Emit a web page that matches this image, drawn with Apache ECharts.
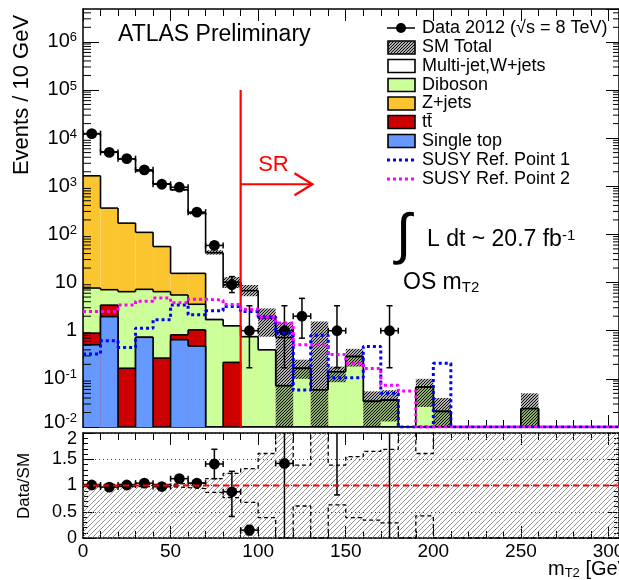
<!DOCTYPE html>
<html>
<head>
<meta charset="utf-8">
<title>OS mT2</title>
<script src="https://cdn.jsdelivr.net/npm/echarts@6/dist/echarts.min.js"></script>
<style>
  html, body { margin: 0; padding: 0; background: #fff; }
  #chart { width: 619px; height: 580px; }
</style>
</head>
<body>
<div id="chart"></div>
<script>
const FONT = '"Liberation Sans", Arial, Helvetica, sans-serif';
const BIN_W = 10;
const X_MAX = 306;
const Y_MIN = 0.01;
const Y_MAX = 4.8e6;
const SR_CUT = 90;

// 10 GeV bins from 0 to 310 GeV (31 bins)
const singleTop = [0.51, 1.96, 0, 0.73, 0, 0.65, 0.48, 0, 0, 0, 0, 0, 0, 0, 0, 0, 0, 0, 0, 0, 0, 0, 0, 0, 0, 0, 0, 0, 0, 0, 0];
const ttbar     = [0.38, 1.44, 0.166, 0, 0.27, 0.17, 0.56, 0, 0.22, 0, 0, 0, 0, 0, 0, 0, 0, 0, 0, 0, 0, 0, 0, 0, 0, 0, 0, 0, 0, 0, 0];
const diboson   = [6.8, 3.7, 6.3, 6.5, 6.2, 4.7, 2.5, 1.7, 1.04, 0.75, 0.40, 0.072, 0.165, 0.059, 0.14, 0.29, 0.034, 0.036, 0, 0.067, 0.021, 0, 0, 0, 0, 0.024, 0, 0, 0, 0, 0];
const zjets     = [1642, 345, 165, 103, 49.5, 10, 12, 0, 0, 0, 0, 0, 0, 0, 0, 0, 0, 0, 0, 0, 0, 0, 0, 0, 0, 0, 0, 0, 0, 0, 0];
const multijet  = [10650, 4850, 3530, 1990, 1064, 830, 262, 40, 8.9, 6.05, 1.4, 0.65, 0, 0, 0, 0, 0, 0, 0, 0, 0, 0, 0, 0, 0, 0, 0, 0, 0, 0, 0];

// SM total uncertainty band (absolute)
const smLow  = [11800, 5000, 3550, 2000, 1070, 800, 260, 38, 7.7, 5.2, 0.75, 0.001, 0.1, 0.001, 0.085, 0.18, 0.001, 0.013, 0, 0.026, 0.001, 0, 0, 0, 0, 0.001, 0, 0, 0, 0, 0];
const smHigh = [12800, 5400, 3850, 2200, 1170, 890, 295, 47, 13, 8.9, 2.9, 1.5, 0.25, 1.55, 0.18, 0.42, 0.055, 0.058, 0, 0.1, 0.04, 0, 0, 0, 0, 0.05, 0, 0, 0, 0, 0];

const dataCounts = [12400, 5050, 3740, 2190, 1100, 955, 290, 59, 9, 1, 0, 1, 2, 0, 1, 0, 0, 1, 0, 0, 0, 0, 0, 0, 0, 0, 0, 0, 0, 0, 0];
const dataLow    = [12290, 4980, 3680, 2143, 1067, 924, 273, 51, 6.2, 0.17, 0, 0.17, 0.7, 0, 0.17, 0, 0, 0.17, 0, 0, 0, 0, 0, 0, 0, 0, 0, 0, 0, 0, 0];
const dataHigh   = [12510, 5120, 3800, 2237, 1133, 986, 307, 67, 13.3, 3.3, 0, 3.3, 4.7, 0, 3.3, 0, 0, 3.3, 0, 0, 0, 0, 0, 0, 0, 0, 0, 0, 0, 0, 0];

const susy1 = [0.33, 0.62, 0.45, 1.12, 1.68, 3.4, 2.14, 2.6, 3.2, 2.5, 1.96, 0.9, 0.059, 0.8, 0.105, 0.105, 0.47, 0.05, 0, 0, 0.21, 0, 0, 0, 0, 0, 0, 0, 0, 0, 0];
const susy2 = [2.5, 2.5, 3.4, 4.1, 4.8, 3.8, 4.5, 4.3, 3.5, 2.8, 1.9, 1.45, 0.51, 0.51, 0.32, 0.21, 0.165, 0.074, 0.056, 0, 0, 0, 0, 0, 0, 0, 0, 0, 0, 0, 0];

// ratio panel
const ratioVal  = [1.01, 0.97, 1.01, 1.045, 0.98, 1.13, 1.045, 1.41, 0.88, 0.15, 0, 1.42, 12, 0, 7.1, 0, 0, 28, 0, 0, 0, 0, 0, 0, 0, 0, 0, 0, 0, 0, 0];
const ratioLow  = [0.99, 0.955, 0.99, 1.025, 0.95, 1.10, 0.99, 1.13, 0.41, 0.06, 0, 0, 4.2, 0, 0.82, 0, 0, 0, 0, 0, 0, 0, 0, 0, 0, 0, 0, 0, 0, 0, 0];
const ratioHigh = [1.03, 0.985, 1.03, 1.065, 1.01, 1.16, 1.10, 1.69, 1.27, 0.24, 0, 4.6, 28, 0, 23, 0, 0, 92, 0, 0, 0, 0, 0, 0, 0, 0, 0, 0, 0, 0, 0];
const bandUp = [1.02, 1.02, 1.02, 1.02, 1.02, 1.04, 1.05, 1.13, 1.23, 1.32, 1.61, 3, 1.39, 3, 1.39, 1.55, 1.65, 1.69, 3, 1.61, 3, 3, 3, 3, 3, 3, 3, 3, 3, 3, 3];
const bandLo = [0.98, 0.98, 0.98, 0.98, 0.98, 0.96, 0.94, 0.87, 0.77, 0.68, 0.39, 0, 0.61, 0, 0.63, 0.39, 0.34, 0.29, 0, 0.42, 0, 0, 0, 0, 0, 0, 0, 0, 0, 0, 0];

// cumulative stack levels
const cumTop = singleTop.slice();
const cumTt = cumTop.map((v, i) => v + ttbar[i]);
const cumVV = cumTt.map((v, i) => v + diboson[i]);
const cumZ = cumVV.map((v, i) => v + zjets[i]);
const cumSM = cumZ.map((v, i) => v + multijet[i]);

function makeHatch(size, color, width) {
  const c = document.createElement('canvas');
  c.width = c.height = size;
  const g = c.getContext('2d');
  g.strokeStyle = color;
  g.lineWidth = width;
  g.beginPath();
  g.moveTo(0, size); g.lineTo(size, 0);
  g.moveTo(-size / 2, size / 2); g.lineTo(size / 2, -size / 2);
  g.moveTo(size / 2, size * 1.5); g.lineTo(size * 1.5, size / 2);
  g.stroke();
  return c;
}
const smHatch = { image: makeHatch(3, '#000000', 1.2), repeat: 'repeat' };
const ratioHatch = { image: makeHatch(5, '#8a8a8a', 0.9), repeat: 'repeat' };

const clampLog = v => Math.max(v, Y_MIN);

function stepLayer(levels, fill) {
  return {
    type: 'custom', xAxisIndex: 0, yAxisIndex: 0, clip: true,
    data: levels.map((v, i) => [i * BIN_W, (i + 1) * BIN_W, v, i > 0 ? levels[i - 1] : 0]),
    renderItem(params, api) {
      const x0 = api.value(0), x1 = api.value(1), v = api.value(2), pv = api.value(3);
      const b0 = api.coord([x0, Y_MIN]);
      const b1 = api.coord([x1, Y_MIN]);
      const yv = api.coord([x0, clampLog(v)])[1];
      const ypv = api.coord([x0, clampLog(pv)])[1];
      const children = [];
      if (v > Y_MIN) {
        children.push({ type: 'rect', shape: { x: b0[0], y: yv, width: b1[0] - b0[0], height: b0[1] - yv }, style: { fill: fill } });
      }
      children.push({ type: 'line', shape: { x1: b0[0], y1: ypv, x2: b0[0], y2: yv }, style: { stroke: '#000', lineWidth: 1.6 } });
      children.push({ type: 'line', shape: { x1: b0[0], y1: yv, x2: b1[0], y2: yv }, style: { stroke: '#000', lineWidth: 1.6 } });
      return { type: 'group', children: children };
    }
  };
}

function errorRender(floor, cap) {
  return function (params, api) {
    const x = api.value(0), v = api.value(1), lo = api.value(2), hi = api.value(3);
    const c = api.coord([x, v]);
    const cl = api.coord([x, Math.max(lo, floor)]);
    const ch = api.coord([x, hi]);
    const xl = api.coord([x - BIN_W / 2, v])[0];
    const xr = api.coord([x + BIN_W / 2, v])[0];
    const s = { stroke: '#000', lineWidth: 1.5 };
    const ch2 = [
      { type: 'line', shape: { x1: c[0], y1: cl[1], x2: c[0], y2: ch[1] }, style: s },
      { type: 'line', shape: { x1: xl, y1: c[1], x2: xr, y2: c[1] }, style: s },
      { type: 'line', shape: { x1: xl, y1: c[1] - cap, x2: xl, y2: c[1] + cap }, style: s },
      { type: 'line', shape: { x1: xr, y1: c[1] - cap, x2: xr, y2: c[1] + cap }, style: s },
      { type: 'line', shape: { x1: c[0] - cap, y1: ch[1], x2: c[0] + cap, y2: ch[1] }, style: s },
      { type: 'circle', shape: { cx: c[0], cy: c[1], r: 5.4 }, style: { fill: '#000' } }
    ];
    if (lo > floor) ch2.push({ type: 'line', shape: { x1: c[0] - cap, y1: cl[1], x2: c[0] + cap, y2: cl[1] }, style: s });
    return { type: 'group', children: ch2 };
  };
}

function stepPoints(vals, floor) {
  const pts = vals.map((v, i) => [i * BIN_W, Math.max(v, floor)]);
  pts.push([vals.length * BIN_W, Math.max(vals[vals.length - 1], floor)]);
  return pts;
}

// log-axis minor tick positions (2..9 x 10^k)
const logMinor = [];
for (let e = -2; e <= 6; e++) {
  for (let m = 2; m <= 9; m++) {
    const v = m * Math.pow(10, e);
    if (v < Y_MAX) logMinor.push(v);
  }
}

const axisLineStyle = { color: '#000', width: 1.5 };
function xAxisCfg(gridIndex, position, labels) {
  return {
    type: 'value', gridIndex: gridIndex, position: position, min: 0, max: X_MAX, interval: 50,
    axisLine: { show: true, onZero: false, lineStyle: axisLineStyle },
    axisTick: { show: true, inside: true, length: 12, lineStyle: { color: '#000', width: 1 } },
    minorTick: { show: true, splitNumber: 5, length: 7, lineStyle: { color: '#000', width: 1 } },
    splitLine: { show: false },
    axisLabel: labels ? { show: true, color: '#000', fontSize: 19, fontFamily: FONT, margin: 4, showMaxLabel: false } : { show: false }
  };
}

const legendRows = [
  { y: 28, kind: 'data', text: 'Data 2012 (√s = 8 TeV)' },
  { y: 47.5, kind: 'hatch', text: 'SM Total' },
  { y: 66, kind: 'box', color: '#ffffff', text: 'Multi-jet,W+jets' },
  { y: 85, kind: 'box', color: '#ccff99', text: 'Diboson' },
  { y: 103.5, kind: 'box', color: '#fbc530', text: 'Z+jets' },
  { y: 122, kind: 'box', color: '#cc0000', text: 't' + 't\u0304' },
  { y: 141, kind: 'box', color: '#6699ff', text: 'Single top' },
  { y: 160, kind: 'line', color: '#0000ff', text: 'SUSY Ref. Point 1' },
  { y: 179, kind: 'line', color: '#ff00ff', text: 'SUSY Ref. Point 2' }
];
const legendGraphics = [];
legendRows.forEach(r => {
  if (r.kind === 'data') {
    legendGraphics.push({ type: 'line', shape: { x1: 387, y1: r.y, x2: 415, y2: r.y }, style: { stroke: '#000', lineWidth: 1.5 } });
    legendGraphics.push({ type: 'circle', shape: { cx: 401, cy: r.y, r: 5 }, style: { fill: '#000' } });
  } else if (r.kind === 'line') {
    legendGraphics.push({ type: 'line', shape: { x1: 387, y1: r.y, x2: 415, y2: r.y }, style: { stroke: r.color, lineWidth: 3, lineDash: [3, 3] } });
  } else {
    legendGraphics.push({ type: 'rect', shape: { x: 388, y: r.y - 6.5, width: 27, height: 13 },
      style: { fill: r.kind === 'hatch' ? smHatch : r.color, stroke: '#000', lineWidth: 1.6 } });
  }
  legendGraphics.push({ type: 'text', x: 422, y: r.y, style: { text: r.text, fill: '#000', fontSize: 18, fontFamily: FONT, verticalAlign: 'middle' } });
});

const textGraphics = [
  { type: 'text', x: 118, y: 35, style: { text: 'ATLAS Preliminary', fill: '#000', fontSize: 23, fontFamily: FONT, verticalAlign: 'middle' } },
  { type: 'text', x: 396, y: 238, style: { text: '∫', fill: '#000', fontSize: 56, fontFamily: FONT, verticalAlign: 'middle' } },
  { type: 'text', x: 427, y: 240, style: { text: 'L dt ~ 20.7 fb{s|-1}', fill: '#000', fontSize: 23, fontFamily: FONT, verticalAlign: 'middle',
      rich: { s: { fontSize: 15, fontFamily: FONT, verticalAlign: 'top', fill: '#000' } } } },
  { type: 'text', x: 403, y: 283, style: { text: 'OS m{sub|T2}', fill: '#000', fontSize: 23, fontFamily: FONT, verticalAlign: 'middle',
      rich: { sub: { fontSize: 15, fontFamily: FONT, verticalAlign: 'bottom', fill: '#000', padding: [10, 0, 0, 0] } } } },
  { type: 'text', x: 22, y: 95, rotation: Math.PI / 2, style: { text: 'Events / 10 GeV', fill: '#000', fontSize: 22, fontFamily: FONT, align: 'center', verticalAlign: 'middle' } },
  { type: 'text', x: 24, y: 486, rotation: Math.PI / 2, style: { text: 'Data/SM', fill: '#000', fontSize: 17, fontFamily: FONT, align: 'center', verticalAlign: 'middle' } },
  { type: 'text', x: 548, y: 569, style: { text: 'm{sub|T2} [GeV]', fill: '#000', fontSize: 20, fontFamily: FONT, verticalAlign: 'middle',
      rich: { sub: { fontSize: 13, fontFamily: FONT, verticalAlign: 'bottom', fill: '#000', padding: [8, 0, 0, 0] } } } }
];

const chart = echarts.init(document.getElementById('chart'), null, { renderer: 'canvas' });

const option = {
  animation: false,
  backgroundColor: '#ffffff',
  textStyle: { fontFamily: FONT },
  grid: [
    { left: 83, top: 9, width: 536, height: 418, containLabel: false, outerBoundsMode: 'none' },
    { left: 83, top: 433, width: 536, height: 105, containLabel: false, outerBoundsMode: 'none' }
  ],
  xAxis: [
    xAxisCfg(0, 'bottom', false),
    xAxisCfg(0, 'top', false),
    xAxisCfg(1, 'bottom', true),
    xAxisCfg(1, 'top', false)
  ],
  yAxis: [
    {
      type: 'log', logBase: 10, gridIndex: 0, position: 'left', min: Y_MIN, max: Y_MAX,
      axisLine: { show: true, onZero: false, lineStyle: axisLineStyle },
      axisTick: { show: true, inside: true, length: 16, lineStyle: { color: '#000', width: 1 } },
      splitLine: { show: false },
      axisLabel: {
        show: true, color: '#000', fontSize: 20, fontFamily: FONT, margin: 6, showMaxLabel: false,
        formatter: v => {
          const l = Math.log10(v);
          const e = Math.round(l);
          if (Math.abs(l - e) > 1e-6) return '';
          if (e === 0) return '1';
          if (e === 1) return '10';
          if (e === -2) return '{lb|10}{lsup|' + e + '}';
          return '10{sup|' + e + '}';
        },
        rich: {
          sup: { fontSize: 13, fontFamily: FONT, color: '#000', verticalAlign: 'top', padding: [0, 0, 8, 0] },
          lb: { fontSize: 20, fontFamily: FONT, color: '#000', padding: [0, 0, 10, 0] },
          lsup: { fontSize: 13, fontFamily: FONT, color: '#000', verticalAlign: 'top', padding: [0, 0, 16, 0] }
        }
      }
    },
    {
      type: 'log', logBase: 10, gridIndex: 0, position: 'right', min: Y_MIN, max: Y_MAX,
      axisLine: { show: true, onZero: false, lineStyle: axisLineStyle },
      axisTick: { show: true, inside: true, length: 13, lineStyle: { color: '#000', width: 1 } },
      splitLine: { show: false }, axisLabel: { show: false }
    },
    {
      type: 'value', gridIndex: 1, position: 'left', min: 0, max: 2, interval: 0.5,
      axisLine: { show: true, onZero: false, lineStyle: axisLineStyle },
      axisTick: { show: true, inside: true, length: 11, lineStyle: { color: '#000', width: 1 } },
      minorTick: { show: true, splitNumber: 5, length: 5, lineStyle: { color: '#000', width: 1 } },
      splitLine: { show: true, lineStyle: { color: '#444', width: 1, type: [1, 3] } },
      axisLabel: {
        show: true, color: '#000', fontSize: 18, fontFamily: FONT, margin: 6,
        formatter: v => (v === 2 ? '{t|2}' : String(v)),
        rich: { t: { fontSize: 18, fontFamily: FONT, color: '#000', padding: [12, 0, 0, 0] } }
      }
    },
    {
      type: 'value', gridIndex: 1, position: 'right', min: 0, max: 2, interval: 0.5,
      axisLine: { show: true, onZero: false, lineStyle: axisLineStyle },
      axisTick: { show: true, inside: true, length: 11, lineStyle: { color: '#000', width: 1 } },
      minorTick: { show: true, splitNumber: 5, length: 5, lineStyle: { color: '#000', width: 1 } },
      splitLine: { show: false }, axisLabel: { show: false }
    }
  ],
  series: [
    // stacked backgrounds, drawn back to front as cumulative levels
    stepLayer(cumSM, '#ffffff'),
    stepLayer(cumZ, '#fbc530'),
    stepLayer(cumVV, '#ccff99'),
    stepLayer(cumTt, '#cc0000'),
    stepLayer(cumTop, '#6699ff'),
    // SM uncertainty band
    {
      type: 'custom', xAxisIndex: 0, yAxisIndex: 0, clip: true,
      data: smHigh.map((h, i) => [i * BIN_W, (i + 1) * BIN_W, smLow[i], h]),
      renderItem(params, api) {
        const hi = api.value(3);
        if (hi <= 0) return null;
        const p0 = api.coord([api.value(0), clampLog(api.value(2))]);
        const p1 = api.coord([api.value(1), clampLog(hi)]);
        return { type: 'rect', shape: { x: p0[0], y: p1[1], width: p1[0] - p0[0], height: p0[1] - p1[1] }, style: { fill: smHatch } };
      }
    },
    {
      type: 'line', xAxisIndex: 0, yAxisIndex: 0, step: 'end', symbol: 'none', clip: true,
      data: stepPoints(susy1, Y_MIN),
      lineStyle: { color: '#0000ff', width: 3, type: [3, 3] }
    },
    {
      type: 'line', xAxisIndex: 0, yAxisIndex: 0, step: 'end', symbol: 'none', clip: true,
      data: stepPoints(susy2, Y_MIN),
      lineStyle: { color: '#ff00ff', width: 3, type: [3, 3] }
    },
    // log minor ticks, left and right
    {
      type: 'custom', xAxisIndex: 0, yAxisIndex: 0, clip: false, silent: true,
      data: logMinor.map(v => [0, v]),
      renderItem(params, api) {
        const l = api.coord([0, api.value(1)]);
        const r = api.coord([X_MAX, api.value(1)]);
        const s = { stroke: '#000', lineWidth: 1 };
        return { type: 'group', children: [
          { type: 'line', shape: { x1: l[0], y1: l[1], x2: l[0] + 8, y2: l[1] }, style: s },
          { type: 'line', shape: { x1: r[0], y1: r[1], x2: r[0] - 6, y2: r[1] }, style: s }
        ] };
      }
    },
    // data
    {
      type: 'custom', xAxisIndex: 0, yAxisIndex: 0, clip: true,
      data: dataCounts.map((n, i) => [i * BIN_W + BIN_W / 2, n, dataLow[i], dataHigh[i]]).filter(d => d[1] > 0),
      renderItem: errorRender(Y_MIN, 3)
    },
    // signal region cut
    {
      type: 'custom', xAxisIndex: 0, yAxisIndex: 0, clip: true,
      data: [[SR_CUT]],
      renderItem(params, api) {
        const top = api.coord([SR_CUT, 1e5]);
        const bot = api.coord([SR_CUT, Y_MIN]);
        const a0 = api.coord([SR_CUT, 1.1e3]);
        const a1 = api.coord([131, 1.1e3]);
        const t = api.coord([100, 2800]);
        const red = { stroke: '#ff0000', lineWidth: 2.2, fill: null };
        return { type: 'group', children: [
          { type: 'line', shape: { x1: top[0], y1: top[1], x2: bot[0], y2: bot[1] }, style: red },
          { type: 'line', shape: { x1: a0[0], y1: a0[1], x2: a1[0], y2: a1[1] }, style: red },
          { type: 'polyline', shape: { points: [[a1[0] - 18, a1[1] - 11], [a1[0], a1[1]], [a1[0] - 18, a1[1] + 11]] }, style: red },
          { type: 'text', x: t[0], y: t[1], style: { text: 'SR', fill: '#ff0000', fontSize: 22, fontFamily: FONT, verticalAlign: 'middle' } }
        ] };
      }
    },
    // ratio panel band
    {
      type: 'custom', xAxisIndex: 2, yAxisIndex: 2, clip: true,
      data: bandUp.map((u, i) => [i * BIN_W, (i + 1) * BIN_W, u]),
      renderItem(params, api) {
        const p0 = api.coord([api.value(0), 0]);
        const p1 = api.coord([api.value(1), Math.min(api.value(2), 2.2)]);
        return { type: 'rect', shape: { x: p0[0], y: p1[1], width: p1[0] - p0[0], height: p0[1] - p1[1] }, style: { fill: ratioHatch } };
      }
    },
    {
      type: 'line', xAxisIndex: 2, yAxisIndex: 2, step: 'end', symbol: 'none', clip: true,
      data: stepPoints(bandUp, 0),
      lineStyle: { color: '#000', width: 1.3, type: [4, 3] }
    },
    {
      type: 'line', xAxisIndex: 2, yAxisIndex: 2, step: 'end', symbol: 'none', clip: true,
      data: stepPoints(bandLo, 0),
      lineStyle: { color: '#000', width: 1.3, type: [4, 3] }
    },
    {
      type: 'line', xAxisIndex: 2, yAxisIndex: 2, symbol: 'none', clip: true,
      data: [[0, 1], [X_MAX, 1]],
      lineStyle: { color: '#ff0000', width: 2, type: [6, 4] }
    },
    {
      type: 'custom', xAxisIndex: 2, yAxisIndex: 2, clip: true,
      data: ratioVal.map((r, i) => [i * BIN_W + BIN_W / 2, r, ratioLow[i], ratioHigh[i]]).filter((d, i) => dataCounts[i] > 0),
      renderItem: errorRender(0, 3)
    }
  ],
  graphic: legendGraphics.concat(textGraphics)
};

chart.setOption(option);
</script>
</body>
</html>
